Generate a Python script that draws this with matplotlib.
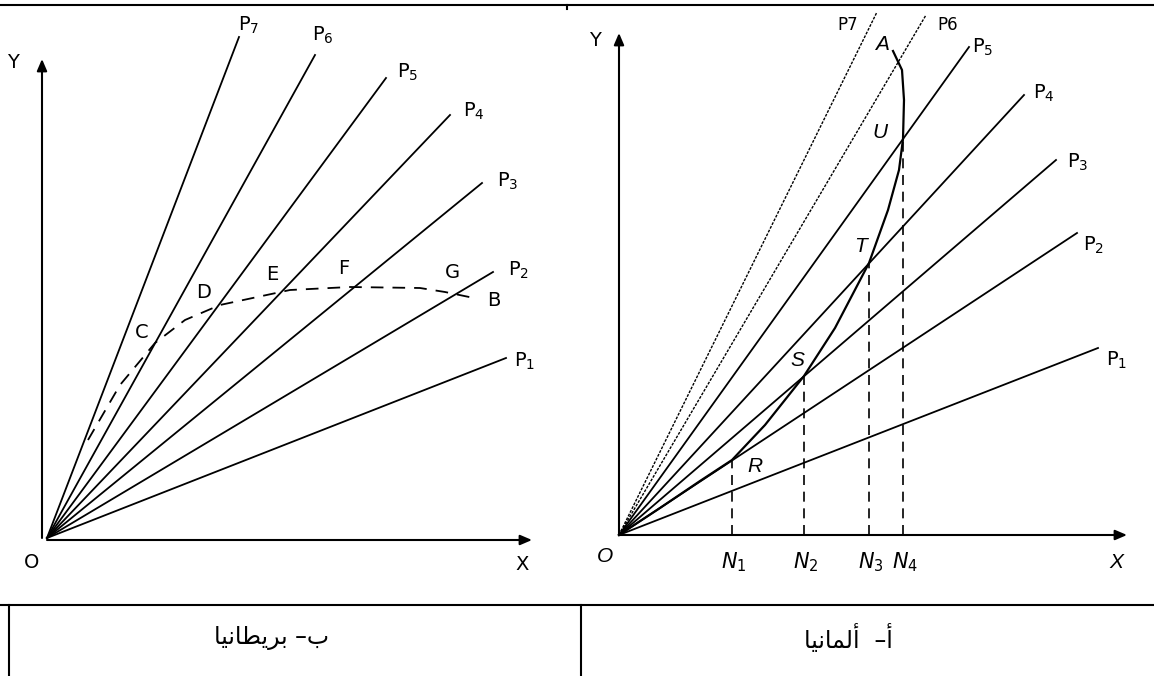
import matplotlib.pyplot as plt

W, H = 1154, 676

# panel b (Britain): ray end points, pixels right / up of O
brit_names = ['7', '6', '5', '4', '3', '2', '1']
brit_dx = [192, 268, 339, 403, 435, 446, 459]
brit_dy = [501, 483, 460, 423, 355, 266, 180]
# dashed locus through C..B
brit_locus_dx = [41, 73, 108, 138, 173, 243, 303, 373, 398, 427]
brit_locus_dy = [98, 153, 195, 218, 233, 248, 251, 250, 246, 240]
brit_pts = ['C', 'D', 'E', 'F', 'G', 'B']
brit_pts_dx = [95, 157, 225, 297, 405, 447]
brit_pts_dy = [205, 245, 263, 270, 265, 238]

# panel a (Germany)
germ_names = ['7', '6', '5', '4', '3', '2', '1']
germ_dx = [258, 307, 350, 405, 437, 458, 479]
germ_dy = [523, 520, 488, 440, 375, 302, 187]
germ_curve_dx = [0, 41, 81, 113, 146, 185, 216, 250, 269, 280, 284, 285, 283, 274]
germ_curve_dy = [0, 27, 54, 75, 110, 159, 207, 272, 325, 365, 396, 435, 465, 484]
germ_pts = ['R', 'S', 'T', 'U', 'A']
germ_pts_dx = [136, 178, 242, 261, 263]
germ_pts_dy = [68, 175, 288, 403, 490]
n_names = ['1', '2', '3', '4']
n_dx = [113, 185, 250, 284]
n_dy = [75, 159, 272, 396]

# captions (Arabic, shaped + visual order)
cap_brit = '\ufe8e\ufef4\ufee7\ufe8e\ufec4\ufef3\ufeae\ufe91 \u2013\ufe8f'
cap_germ = '\ufe8e\ufef4\ufee7\ufe8e\ufee4\ufedf\ufe83  \u2013\ufe83'

fig = plt.figure(figsize=(W / 100, H / 100), dpi=100)
fig.patch.set_facecolor('white')


def panel(ox, oy):
    ax = fig.add_axes([0, 0, 1, 1])
    ax.set_xlim(-ox, W - ox)
    ax.set_ylim(-(H - oy), oy)
    ax.axis('off')
    ax.patch.set_alpha(0)
    return ax


def arrow(ax, x0, y0, x1, y1):
    ax.annotate('', xy=(x1, y1), xytext=(x0, y0),
                arrowprops=dict(arrowstyle='-|>,head_length=0.7,head_width=0.3',
                                color='black', lw=1.5, shrinkA=0, shrinkB=0))


lab = dict(family='DejaVu Sans', fontsize=14, color='black')
ital = dict(family='Liberation Sans', style='italic', fontsize=15, color='black')

# ---------------- left panel
ax = panel(47, 538)
arrow(ax, -5, 0, -5, 479)
arrow(ax, 0, -2, 485, -2)
ax.text(-34, 476, 'Y', ha='center', va='center', **lab)
ax.text(-15, -25, 'O', ha='center', va='center', **lab)
ax.text(475, -27, 'X', ha='center', va='center', **lab)

brit_off = [(10, 12), (8, 20), (22, 6), (24, 4), (26, 2), (26, 2), (19, -3)]
for n, dx, dy, (ox, oy) in zip(brit_names, brit_dx, brit_dy, brit_off):
    ax.plot([0, dx], [0, dy], color='black', lw=1.3)
    ax.text(dx + ox, dy + oy, r'$\mathregular{P_{%s}}$' % n, ha='center', va='center', **lab)

ax.plot(brit_locus_dx, brit_locus_dy, color='black', lw=1.3, dashes=(7, 5))
for t, x, y in zip(brit_pts, brit_pts_dx, brit_pts_dy):
    ax.text(x, y, t, ha='center', va='center', **lab)

# ---------------- right panel
ax = panel(619, 535)
arrow(ax, 0, 0, 0, 502)
arrow(ax, 0, 0, 508, 0)
ax.text(-24, 495, 'Y', ha='center', va='center', **lab)
ax.text(-14, -22, 'O', ha='center', va='center', **ital)
ax.text(497, -28, 'X', ha='center', va='center', **ital)

germ_off = [(-29, -13), (22, -10), (14, 0), (20, 2), (22, -2), (17, -12), (19, -12)]
for i, (n, dx, dy, (ox, oy)) in enumerate(zip(germ_names, germ_dx, germ_dy, germ_off)):
    if i < 2:
        ax.plot([0, dx], [0, dy], color='black', lw=1.0, ls=(0, (2, 1)))
        ax.text(dx + ox, dy + oy, 'P' + n, ha='center', va='center',
                family='DejaVu Sans', fontsize=12)
    else:
        ax.plot([0, dx], [0, dy], color='black', lw=1.3)
        ax.text(dx + ox, dy + oy, r'$\mathregular{P_{%s}}$' % n, ha='center', va='center', **lab)

ax.plot(germ_curve_dx, germ_curve_dy, color='black', lw=1.6)
for t, x, y in zip(germ_pts, germ_pts_dx, germ_pts_dy):
    ax.text(x, y, t, ha='center', va='center', **ital)
for n, x, y in zip(n_names, n_dx, n_dy):
    ax.plot([x, x], [0, y], color='black', lw=1.2, dashes=(6, 4))
    ax.text(x + 2, -27, r'$N_{%s}$' % n, ha='center', va='center', fontsize=15)

# ---------------- table frame and captions
ax = fig.add_axes([0, 0, 1, 1])
ax.set_xlim(0, W)
ax.set_ylim(H, 0)
ax.axis('off')
ax.patch.set_alpha(0)
ax.plot([0, W], [5, 5], color='black', lw=1.5)
ax.plot([0, W], [605, 605], color='black', lw=1.5)
ax.plot([9, 9], [605, H], color='black', lw=1.5)
ax.plot([581, 581], [605, H], color='black', lw=1.5)
ax.plot([567, 567], [5, 9], color='black', lw=1.5)
ax.text(272, 638, cap_brit, ha='center', va='center', family='DejaVu Sans', fontsize=17)
ax.text(848, 638, cap_germ, ha='center', va='center', family='DejaVu Sans', fontsize=17)

fig.savefig('out.png', dpi=100)
